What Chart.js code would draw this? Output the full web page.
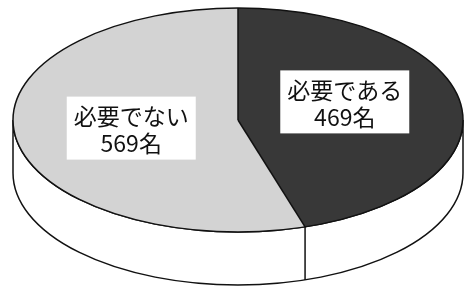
<!DOCTYPE html>
<html>
<head>
<meta charset="utf-8">
<script src="https://cdn.jsdelivr.net/npm/chart.js@4"></script>
<style>
  body { margin: 0; background: #fff; }
  canvas { display: block; }
</style>
</head>
<body>
<canvas id="pieChart" width="465" height="290"></canvas>
<script>
const labels = ["必要である", "必要でない"];
const counts = [469, 569];
const unit = "名";
const colors = ["#383838", "#d3d3d3"];

// fake 3D: squash the pie into an ellipse and draw a white side wall under it
const DEPTH = 53;
const labelShift = [-10, 0];

const pie3d = {
    id: "pie3d",
    beforeDatasetsDraw(chart) {
        const ctx = chart.ctx;
        const arcs = chart.getDatasetMeta(0).data;
        const { x, y, outerRadius: r } = arcs[0];
        const sx = chart.chartArea.width / 2 / r;
        this.geo = { x, y, r, sx };

        ctx.save();
        ctx.lineWidth = 1.5;
        ctx.strokeStyle = "#111";
        ctx.fillStyle = "#fff";
        ctx.beginPath();
        ctx.ellipse(x, y, r * sx, r, 0, 0, Math.PI);
        ctx.lineTo(x - r * sx, y + DEPTH);
        ctx.ellipse(x, y + DEPTH, r * sx, r, 0, Math.PI, 0, true);
        ctx.closePath();
        ctx.fill();
        ctx.stroke();

        // edges of slices on the front wall
        arcs.forEach((a) => {
            const ang = ((a.endAngle % (2 * Math.PI)) + 2 * Math.PI) % (2 * Math.PI);
            if (ang > 0 && ang < Math.PI) {
                const px = x + r * sx * Math.cos(ang);
                const py = y + r * Math.sin(ang);
                ctx.beginPath();
                ctx.moveTo(px, py);
                ctx.lineTo(px, py + DEPTH);
                ctx.stroke();
            }
        });
        ctx.restore();

        ctx.save();
        ctx.translate(x, 0);
        ctx.scale(sx, 1);
        ctx.translate(-x, 0);
    },
    afterDatasetsDraw(chart) {
        const ctx = chart.ctx;
        ctx.restore();
        const { x, y, r, sx } = this.geo;
        const arcs = chart.getDatasetMeta(0).data;

        ctx.save();
        ctx.lineWidth = 1.5;
        ctx.strokeStyle = "#111";
        ctx.beginPath();
        ctx.ellipse(x, y, r * sx, r, 0, 0, 2 * Math.PI);
        ctx.stroke();
        arcs.forEach((a) => {
            ctx.beginPath();
            ctx.moveTo(x, y);
            ctx.lineTo(x + r * sx * Math.cos(a.startAngle), y + r * Math.sin(a.startAngle));
            ctx.stroke();
        });

        // labels in white boxes
        ctx.font = '23px "Noto Sans CJK JP", sans-serif';
        ctx.textAlign = "center";
        ctx.textBaseline = "middle";
        arcs.forEach((a, i) => {
            const mid = (a.startAngle + a.endAngle) / 2;
            const cx = x + r * sx * 0.48 * Math.cos(mid);
            const cy = y + r * 0.48 * Math.sin(mid) + labelShift[i];
            const line1 = labels[i];
            const line2 = counts[i] + unit;
            const w = Math.max(ctx.measureText(line1).width, ctx.measureText(line2).width) + 14;
            const h = 63;
            ctx.fillStyle = "#fff";
            ctx.fillRect(cx - w / 2, cy - h / 2, w, h);
            ctx.fillStyle = "#111";
            ctx.fillText(line1, cx, cy - 12);
            ctx.fillText(line2, cx, cy + 15);
        });
        ctx.restore();
    },
};

new Chart(document.getElementById("pieChart"), {
    type: "pie",
    data: {
        labels: labels,
        datasets: [
            {
                data: counts,
                backgroundColor: colors,
                borderWidth: 0,
            },
        ],
    },
    options: {
        responsive: false,
        animation: false,
        layout: {
            padding: { left: 13, right: 2, top: 8, bottom: 58 },
        },
        plugins: {
            legend: { display: false },
            tooltip: { enabled: false },
        },
    },
    plugins: [pie3d],
});
</script>
</body>
</html>
